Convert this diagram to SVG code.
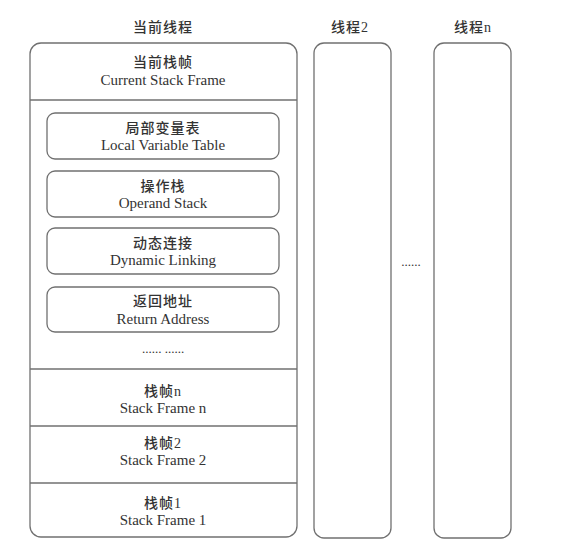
<svg xmlns="http://www.w3.org/2000/svg" width="561" height="550" viewBox="0 0 561 550">
<style>
  .box { fill: #fff; stroke: #707070; stroke-width: 1.3; }
  .line { stroke: #707070; stroke-width: 1.3; fill: none; }
  .t { font-family: "Liberation Serif", "Noto Sans CJK SC", serif; font-size: 13px; fill: #333; text-anchor: middle; }
  .zh { font-size: 14px; font-weight: 500; letter-spacing: 1px; }
  .en { font-size: 15px; }
</style>
<rect width="561" height="550" fill="#fff"/>
<g id="current-thread">
  <text class="t zh" x="163" y="32">当前线程</text>
  <rect class="box" x="30" y="43" width="267" height="494" rx="11"/>
</g>
<g id="connectors">
  <line class="line" x1="30" y1="100" x2="297" y2="100"/>
  <line class="line" x1="30" y1="369" x2="297" y2="369"/>
  <line class="line" x1="30" y1="426" x2="297" y2="426"/>
  <line class="line" x1="30" y1="483" x2="297" y2="483"/>
</g>
<g id="current-frame">
  <text class="t zh" x="163" y="67">当前栈帧</text>
  <text class="t en" x="163" y="85">Current Stack Frame</text>
</g>
<g id="local-var">
  <rect class="box" x="47" y="113" width="232" height="46" rx="8"/>
  <text class="t zh" x="163" y="133">局部变量表</text>
  <text class="t en" x="163" y="150">Local Variable Table</text>
</g>
<g id="operand">
  <rect class="box" x="47" y="171" width="232" height="46" rx="8"/>
  <text class="t zh" x="163" y="191">操作栈</text>
  <text class="t en" x="163" y="208">Operand Stack</text>
</g>
<g id="dynamic">
  <rect class="box" x="47" y="228" width="232" height="46" rx="8"/>
  <text class="t zh" x="163" y="248">动态连接</text>
  <text class="t en" x="163" y="265">Dynamic Linking</text>
</g>
<g id="return">
  <rect class="box" x="47" y="287" width="232" height="45" rx="8"/>
  <text class="t zh" x="163" y="306">返回地址</text>
  <text class="t en" x="163" y="324">Return Address</text>
</g>
<g id="dots1">
  <text class="t" x="163" y="353" font-size="10">...... ......</text>
</g>
<g id="frame-n">
  <text class="t zh" x="163" y="396">栈帧n</text>
  <text class="t en" x="163" y="413">Stack Frame n</text>
</g>
<g id="frame-2">
  <text class="t zh" x="163" y="448">栈帧2</text>
  <text class="t en" x="163" y="465">Stack Frame 2</text>
</g>
<g id="frame-1">
  <text class="t zh" x="163" y="508">栈帧1</text>
  <text class="t en" x="163" y="525">Stack Frame 1</text>
</g>
<g id="thread-2">
  <text class="t zh" x="350" y="32">线程2</text>
  <rect class="box" x="314" y="43" width="77" height="495" rx="10"/>
</g>
<g id="dots2">
  <text class="t" x="411" y="266" font-size="10">......</text>
</g>
<g id="thread-n">
  <text class="t zh" x="473" y="32">线程n</text>
  <rect class="box" x="434" y="43" width="77" height="495" rx="10"/>
</g>
</svg>
